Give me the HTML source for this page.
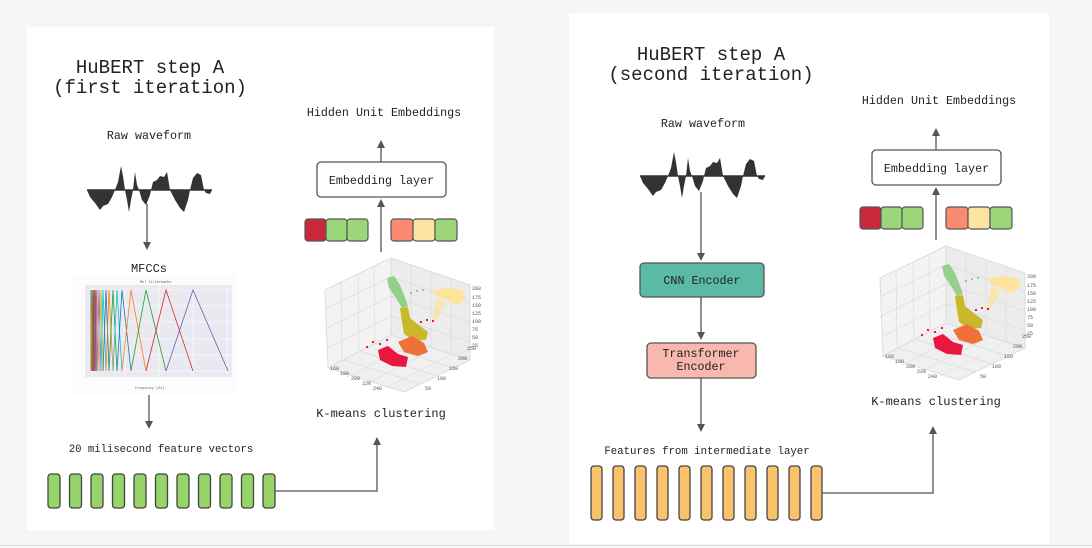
<!DOCTYPE html>
<html><head><meta charset="utf-8"><style>
html,body{margin:0;padding:0;background:#f6f6f6;}
svg{display:block;font-family:"Liberation Mono",monospace;}
</style></head><body>
<svg width="1092" height="548" viewBox="0 0 1092 548" xmlns="http://www.w3.org/2000/svg">
<defs>
<marker id="ah" markerWidth="8" markerHeight="8" refX="4" refY="4" orient="auto" markerUnits="userSpaceOnUse"><path d="M0,0 L8,4 L0,8 Z" fill="#555"/></marker>
<g id="wave">
<path d="M87,190 L90,197 95,203 100,210 103,206 108,204 112,197 115,190 118,182 121,166 123,176 125,190 127,200 129,212 131,200 133,190 135,172 137,185 139,190 142,200 146,205 150,195 151,190 153,182 157,180 160,176 164,177 167,172 170,190 175,200 180,208 184,212 188,200 190,190 193,178 197,173 201,175 204,190 206,193 210,194 212,190 Z" fill="#333"/>
<line x1="87" y1="190" x2="212" y2="190" stroke="#333" stroke-width="1.5"/>
</g>
<g id="rcol">
<text x="384" y="116" font-size="11.7" text-anchor="middle" fill="#222">Hidden Unit Embeddings</text>
<line x1="381" y1="162" x2="381" y2="144" stroke="#555" stroke-width="1.3" marker-end="url(#ah)"/>
<rect x="317" y="162" width="129" height="35" rx="4" fill="#fff" stroke="#555" stroke-width="1.3"/>
<text x="381.5" y="184" font-size="11.7" text-anchor="middle" fill="#222">Embedding layer</text>
<line x1="381" y1="252" x2="381" y2="203" stroke="#555" stroke-width="1.3" marker-end="url(#ah)"/>
<g stroke="#555" stroke-width="1.2">
<rect x="305" y="219" width="21" height="22" rx="3" fill="#c9283a"/>
<rect x="326" y="219" width="21" height="22" rx="3" fill="#9cd67a"/>
<rect x="347" y="219" width="21" height="22" rx="3" fill="#9cd67a"/>
<rect x="391" y="219" width="22" height="22" rx="3" fill="#fb8a72"/>
<rect x="413" y="219" width="22" height="22" rx="3" fill="#fde4a0"/>
<rect x="435" y="219" width="22" height="22" rx="3" fill="#9cd67a"/>
</g>
<!-- scatter -->
<polygon points="325,290 391,258 391,335 328,368" fill="#f3f3f3" stroke="#ddd"/>
<polygon points="391,258 470,285 470,360 391,335" fill="#ececec" stroke="#ddd"/>
<polygon points="328,368 391,335 470,360 404,392" fill="#f0f0f0" stroke="#ddd"/>
<g stroke="#dcdcdc" stroke-width="0.7" fill="none">
<path d="M341,282 L342,360 M358,274 L359,351 M374,266 L375,343 M325,309 L391,277 M325,329 L391,296 M326,349 L391,316"/>
<path d="M411,265 L411,341 M431,272 L431,347 M451,279 L451,354 M391,277 L470,304 M391,296 L470,323 M391,316 L470,342"/>
<path d="M344,360 L420,384 M360,351 L437,376 M375,343 L453,368 M347,377 L410,345 M366,384 L430,351 M385,388 L450,355"/>
</g>
<polygon points="387,278 394,276 400,285 404,295 408,306 402,308 396,298 389,288" fill="#93d08a"/>
<polygon points="432,291 447,288 462,290 466,298 458,305 446,300 436,296" fill="#fde49a"/>
<polygon points="436,298 446,302 438,318 432,322" fill="#fde49a" opacity="0.7"/>
<polygon points="400,308 408,307 410,318 420,326 428,332 426,340 414,341 404,334 402,322" fill="#c9b92a"/>
<polygon points="398,342 412,336 424,343 428,352 418,356 404,352" fill="#f0703a"/>
<polygon points="378,350 388,346 398,354 408,357 406,367 392,366 380,360" fill="#e8173f"/>
<g fill="#e8173f"><rect x="366" y="346" width="2" height="2"/><rect x="372" y="341" width="2" height="2"/><rect x="379" y="343" width="2" height="2"/><rect x="386" y="339" width="2" height="2"/><rect x="420" y="321" width="2" height="2"/><rect x="426" y="319" width="2" height="2"/><rect x="432" y="320" width="2" height="2"/></g>
<g fill="#93d08a"><rect x="410" y="292" width="2" height="2"/><rect x="416" y="290" width="2" height="2"/><rect x="422" y="289" width="2" height="2"/><rect x="403" y="300" width="2" height="2"/></g>
<g font-size="5" fill="#555">
<text x="472" y="290">200</text><text x="472" y="299">175</text><text x="472" y="307">150</text><text x="472" y="315">125</text><text x="472" y="323">100</text><text x="472" y="331">75</text><text x="472" y="339">50</text><text x="472" y="347">25</text>
<text x="330" y="370">160</text><text x="340" y="375">180</text><text x="351" y="380">200</text><text x="362" y="385">220</text><text x="373" y="390">240</text>
<text x="425" y="390">50</text><text x="437" y="380">100</text><text x="449" y="370">150</text><text x="458" y="360">200</text><text x="467" y="350">250</text>
</g>
<text x="381" y="417" font-size="12" text-anchor="middle" fill="#222">K-means clustering</text>
</g>
</defs>

<!-- panels -->
<rect x="27" y="27" width="467" height="503" fill="#fff"/>
<rect x="569" y="13" width="480" height="531" fill="#fff"/>
<line x1="0" y1="545.5" x2="1092" y2="545.5" stroke="#ddd" stroke-width="1"/>

<!-- LEFT PANEL -->
<text x="150" y="73" font-size="19" text-anchor="middle" fill="#222">HuBERT step A</text>
<text x="150" y="93" font-size="19" text-anchor="middle" fill="#222">(first iteration)</text>
<text x="149" y="139" font-size="11.7" text-anchor="middle" fill="#222">Raw waveform</text>
<use href="#wave"/>
<line x1="147" y1="204" x2="147" y2="246" stroke="#555" stroke-width="1.3" marker-end="url(#ah)"/>
<text x="149" y="272" font-size="12" text-anchor="middle" fill="#222">MFCCs</text>
<rect x="72" y="274" width="164" height="120" fill="#fcfcfd"/>
<rect x="85" y="285" width="147" height="92" fill="#e8e9f1"/>
<g stroke="#fff" stroke-width="0.6"><line x1="85" y1="290" x2="232" y2="290"/><line x1="85" y1="306" x2="232" y2="306"/><line x1="85" y1="322" x2="232" y2="322"/><line x1="85" y1="339" x2="232" y2="339"/><line x1="85" y1="355" x2="232" y2="355"/><line x1="85" y1="371" x2="232" y2="371"/><line x1="92" y1="285" x2="92" y2="377"/><line x1="125" y1="285" x2="125" y2="377"/><line x1="159" y1="285" x2="159" y2="377"/><line x1="193" y1="285" x2="193" y2="377"/><line x1="227" y1="285" x2="227" y2="377"/></g>
<g fill="none" stroke-width="0.8">
<polyline points="91,371 91,290 92,371" stroke="#1f77b4"/>
<polyline points="91,371 92,290 93,371" stroke="#ff7f0e"/>
<polyline points="92,371 93,290 94,371" stroke="#2ca02c"/>
<polyline points="93,371 94,290 95,371" stroke="#d62728"/>
<polyline points="94,371 95,290 96,371" stroke="#9467bd"/>
<polyline points="95,371 96,290 97,371" stroke="#8c564b"/>
<polyline points="96,371 97,290 99,371" stroke="#e377c2"/>
<polyline points="97,371 99,290 101,371" stroke="#7f7f7f"/>
<polyline points="99,371 101,290 103,371" stroke="#bcbd22"/>
<polyline points="101,371 103,290 106,371" stroke="#17becf"/>
<polyline points="103,371 106,290 109,371" stroke="#1f77b4"/>
<polyline points="106,371 109,290 113,371" stroke="#ff7f0e"/>
<polyline points="109,371 113,290 117,371" stroke="#2ca02c"/>
<polyline points="113,371 117,290 122,371" stroke="#17becf"/>
<polyline points="117,371 122,290 131,371" stroke="#1f77b4"/>
<polyline points="122,371 131,290 146,371" stroke="#ff7f0e"/>
<polyline points="131,371 146,290 166,371" stroke="#2ca02c"/>
<polyline points="146,371 166,290 193,371" stroke="#d62728"/>
<polyline points="166,371 193,290 228,371" stroke="#6c5fb0"/>
</g>
<g font-size="3.5" fill="#666"><text x="140" y="283">Mel filterbanks</text><text x="135" y="389">Frequency (Hz)</text></g>
<line x1="149" y1="395" x2="149" y2="425" stroke="#555" stroke-width="1.3" marker-end="url(#ah)"/>
<text x="161" y="452" font-size="10.6" text-anchor="middle" fill="#222">20 milisecond feature vectors</text>
<g fill="#96d46a" stroke="#444" stroke-width="1.3">
<rect x="48" y="474" width="12" height="34" rx="3"/><rect x="69.5" y="474" width="12" height="34" rx="3"/><rect x="91" y="474" width="12" height="34" rx="3"/><rect x="112.5" y="474" width="12" height="34" rx="3"/><rect x="134" y="474" width="12" height="34" rx="3"/><rect x="155.5" y="474" width="12" height="34" rx="3"/><rect x="177" y="474" width="12" height="34" rx="3"/><rect x="198.5" y="474" width="12" height="34" rx="3"/><rect x="220" y="474" width="12" height="34" rx="3"/><rect x="241.5" y="474" width="12" height="34" rx="3"/><rect x="263" y="474" width="12" height="34" rx="3"/>
</g>
<polyline points="275,491 377,491 377,441" fill="none" stroke="#555" stroke-width="1.3" marker-end="url(#ah)"/>
<use href="#rcol"/>

<!-- RIGHT PANEL -->
<text x="711" y="60" font-size="19" text-anchor="middle" fill="#222">HuBERT step A</text>
<text x="711" y="80" font-size="19" text-anchor="middle" fill="#222">(second iteration)</text>
<text x="703" y="127" font-size="11.7" text-anchor="middle" fill="#222">Raw waveform</text>
<use href="#wave" transform="translate(553,-14)"/>
<line x1="701" y1="192" x2="701" y2="257" stroke="#555" stroke-width="1.3" marker-end="url(#ah)"/>
<rect x="640" y="263" width="124" height="34" rx="4" fill="#5bbaa4" stroke="#555" stroke-width="1.3"/>
<text x="702" y="284" font-size="11.7" text-anchor="middle" fill="#222">CNN Encoder</text>
<line x1="701" y1="297" x2="701" y2="336" stroke="#555" stroke-width="1.3" marker-end="url(#ah)"/>
<rect x="647" y="343" width="109" height="35" rx="4" fill="#f9b8ad" stroke="#555" stroke-width="1.3"/>
<text x="701" y="357" font-size="11.7" text-anchor="middle" fill="#222">Transformer</text>
<text x="701" y="370" font-size="11.7" text-anchor="middle" fill="#222">Encoder</text>
<line x1="701" y1="378" x2="701" y2="428" stroke="#555" stroke-width="1.3" marker-end="url(#ah)"/>
<text x="707" y="454" font-size="10.7" text-anchor="middle" fill="#222">Features from intermediate layer</text>
<g fill="#fbc26e" stroke="#444" stroke-width="1.3">
<rect x="591" y="466" width="11" height="54" rx="3"/><rect x="613" y="466" width="11" height="54" rx="3"/><rect x="635" y="466" width="11" height="54" rx="3"/><rect x="657" y="466" width="11" height="54" rx="3"/><rect x="679" y="466" width="11" height="54" rx="3"/><rect x="701" y="466" width="11" height="54" rx="3"/><rect x="723" y="466" width="11" height="54" rx="3"/><rect x="745" y="466" width="11" height="54" rx="3"/><rect x="767" y="466" width="11" height="54" rx="3"/><rect x="789" y="466" width="11" height="54" rx="3"/><rect x="811" y="466" width="11" height="54" rx="3"/>
</g>
<polyline points="822,493 933,493 933,430" fill="none" stroke="#555" stroke-width="1.3" marker-end="url(#ah)"/>
<use href="#rcol" transform="translate(555,-12)"/>
</svg>
</body></html>
